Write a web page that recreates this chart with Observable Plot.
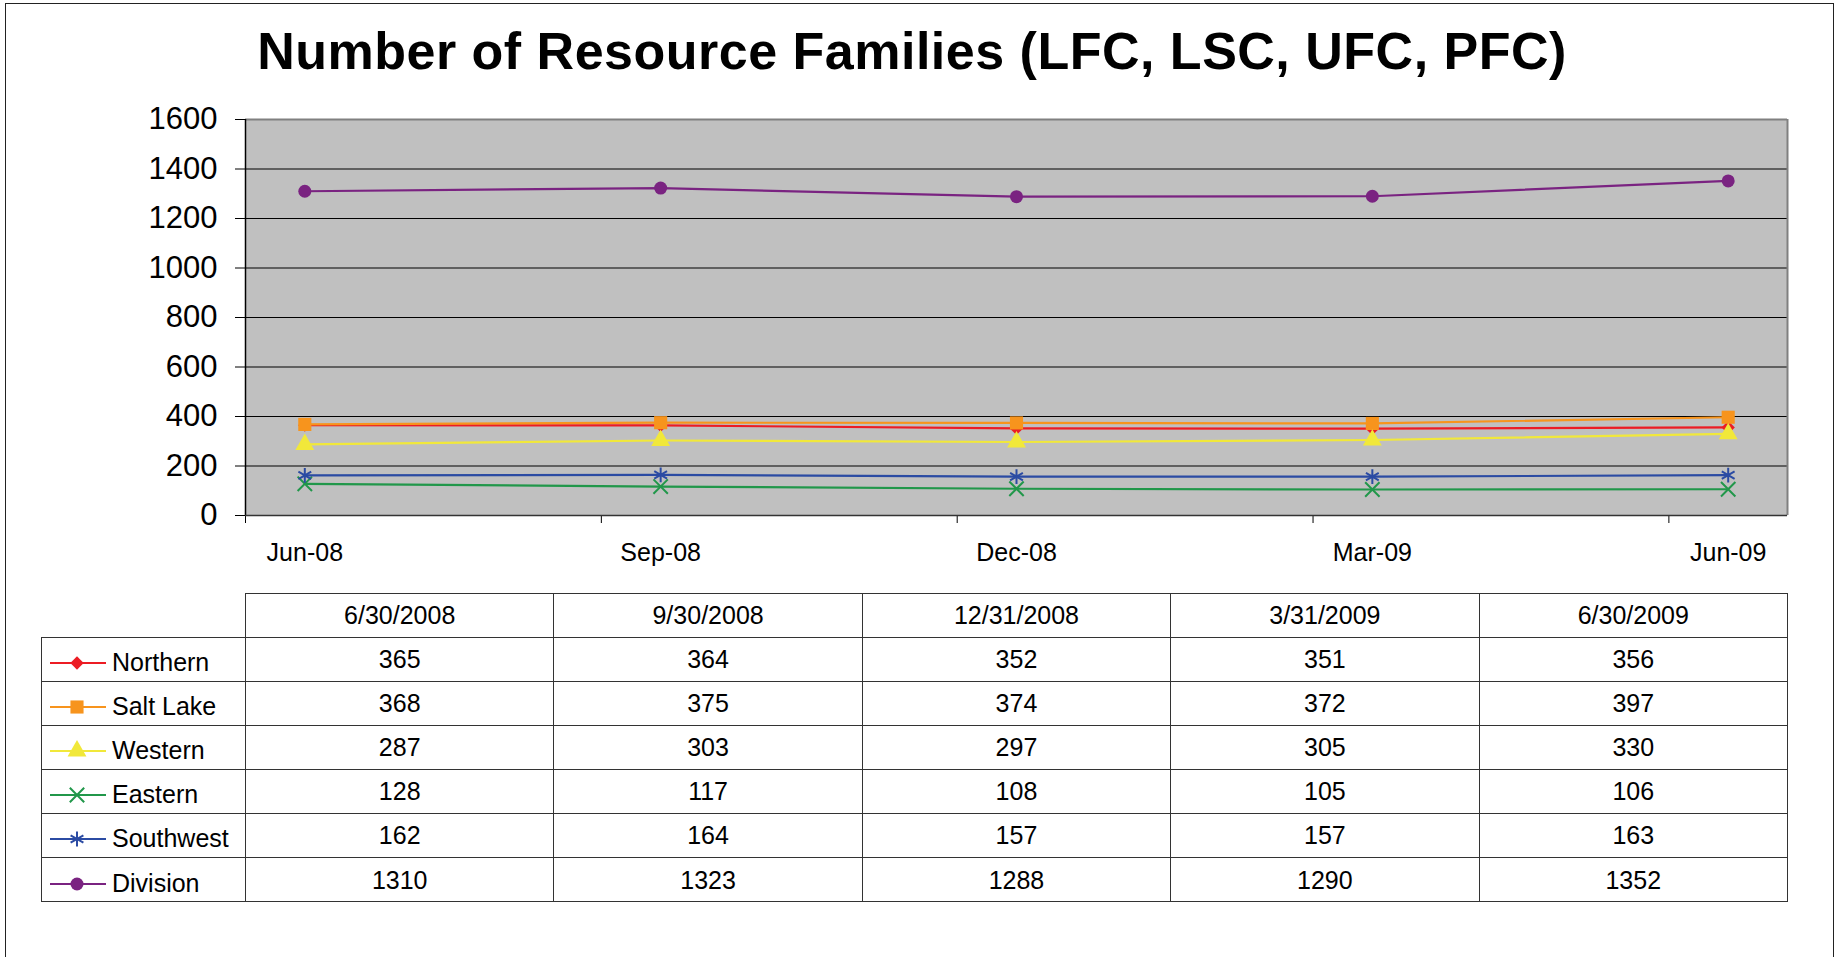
<!DOCTYPE html>
<html>
<head>
<meta charset="utf-8">
<script src="https://cdn.jsdelivr.net/npm/d3@7"></script>
<script src="https://cdn.jsdelivr.net/npm/@observablehq/plot@0.6"></script>
<style>
  html, body { margin: 0; padding: 0; background: #fff; }
  body { width: 1841px; height: 957px; overflow: hidden; position: relative; font-family: "Liberation Sans", Arial, sans-serif; color: #000; }
  #frame { position: absolute; left: 5px; top: 3px; width: 1829px; height: 1000px; border: 1.5px solid #222; border-bottom: none; box-sizing: border-box; }
  #title { position: absolute; left: 0; width: 1824px; top: 25px; text-align: center; font-size: 52px; line-height: 52px; letter-spacing: 0.5px; font-weight: bold; }
  #chart { position: absolute; left: 0; top: 0; }
  #tbl { position: absolute; left: 41px; top: 593px; border-collapse: collapse; table-layout: fixed; font-size: 25px; }
  #tbl td { border: 1.5px solid #333; text-align: center; padding: 0; white-space: nowrap; }
  #tbl tr.head td { height: 42.5px; }
  #tbl tr.body td { height: 42.1px; padding-top: 1px; }
  #tbl td.blank { border: none; }
  #tbl td.leg { text-align: left; position: relative; }
  #tbl td.leg svg { position: absolute; left: 6px; top: 50%; }
  #tbl td.leg span { position: absolute; left: 70px; top: 50%; margin-top: -11px; line-height: 28px; }
</style>
</head>
<body>
<div id="frame"></div>
<div id="title">Number of Resource Families (LFC, LSC, UFC, PFC)</div>
<div id="chart"></div>
<table id="tbl"></table>
<script>
// ---- data ----
const dates = ["6/30/2008", "9/30/2008", "12/31/2008", "3/31/2009", "6/30/2009"];
const axisLabels = ["Jun-08", "Sep-08", "Dec-08", "Mar-09", "Jun-09"];
const seriesNames = ["Northern", "Salt Lake", "Western", "Eastern", "Southwest", "Division"];
const northern = [365, 364, 352, 351, 356];
const saltLake = [368, 375, 374, 372, 397];
const western = [287, 303, 297, 305, 330];
const eastern = [128, 117, 108, 105, 106];
const southwest = [162, 164, 157, 157, 163];
const division = [1310, 1323, 1288, 1290, 1352];
const yTicks = [0, 200, 400, 600, 800, 1000, 1200, 1400, 1600];

// ---- styles ----
const colors = ["#ec1c24", "#f7941d", "#f1e83a", "#21974a", "#2b4ba3", "#7a2381"];
const symbols = ["diamond2", "square", "triangle", "times", "asterisk", "circle"];
const symbolR = [6, 7.4, 7, 6.6, 7, 6.5];
const strokeSymbols = new Set(["times", "asterisk"]);
const d3Sym = {diamond2: d3.symbolDiamond2, square: d3.symbolSquare, triangle: d3.symbolTriangle, times: d3.symbolTimes, asterisk: d3.symbolAsterisk, circle: d3.symbolCircle};

const allValues = [northern, saltLake, western, eastern, southwest, division];
const parse = d3.utcParse("%m/%d/%Y");
const start = new Date(Date.UTC(2008, 5, 1));
const monthPos = dates.map(d => d3.utcMonth.count(start, parse(d)) + 0.5);
const nMonths = d3.utcMonth.count(start, parse(dates[dates.length - 1])) + 1;
const tickPos = d3.range(0, nMonths, 3);

const rows = [];
seriesNames.forEach((s, i) => allValues[i].forEach((v, j) => rows.push({series: s, si: i, x: monthPos[j], value: v})));

const marks = [
  Plot.frame({fill: "#c0c0c0", stroke: "none"}),
  Plot.ruleY(yTicks.slice(1, -1), {stroke: "#000", strokeWidth: 1}),
  Plot.ruleY([yTicks[yTicks.length - 1]], {stroke: "#808080", strokeWidth: 2}),
  Plot.ruleX([nMonths], {stroke: "#808080", strokeWidth: 2}),
  Plot.axisY({ticks: yTicks, tickSize: 10, tickPadding: 18, fontSize: 31, label: null, tickFormat: d => String(d)}),
  Plot.axisX({ticks: tickPos, tickSize: 8, tickFormat: () => "", label: null}),
  Plot.axisX({ticks: monthPos, tickSize: 0, tickPadding: 28, fontSize: 25, label: null, tickFormat: (d, i) => axisLabels[i]}),
  Plot.ruleX([0], {stroke: "#000", strokeWidth: 1.5}),
  Plot.ruleY([0], {stroke: "#333", strokeWidth: 1.5})
];
seriesNames.forEach((s, i) => {
  const data = rows.filter(r => r.si === i);
  marks.push(Plot.line(data, {x: "x", y: "value", stroke: colors[i], strokeWidth: 2.2}));
  if (strokeSymbols.has(symbols[i])) {
    marks.push(Plot.dot(data, {x: "x", y: "value", symbol: () => symbols[i], r: symbolR[i], stroke: colors[i], strokeWidth: 2, fill: "none"}));
  } else {
    marks.push(Plot.dot(data, {x: "x", y: "value", symbol: () => symbols[i], r: symbolR[i], fill: colors[i], stroke: "none"}));
  }
});

const chart = Plot.plot({
  width: 1841,
  height: 580,
  marginLeft: 245,
  marginRight: 54,
  marginTop: 119,
  marginBottom: 65,
  x: {type: "linear", domain: [0, nMonths]},
  y: {domain: [0, yTicks[yTicks.length - 1]]},
  symbol: {type: "identity"},
  style: {fontFamily: "'Liberation Sans', Arial, sans-serif", background: "transparent", color: "#000", overflow: "visible"},
  marks
});
document.getElementById("chart").appendChild(chart);

// ---- data table with legend ----
const tbl = document.getElementById("tbl");
const colgroup = document.createElement("colgroup");
const c0 = document.createElement("col"); c0.style.width = "204px"; colgroup.appendChild(c0);
dates.forEach(() => { const c = document.createElement("col"); c.style.width = "308.4px"; colgroup.appendChild(c); });
tbl.appendChild(colgroup);
const head = document.createElement("tr"); head.className = "head";
const blank = document.createElement("td"); blank.className = "blank"; head.appendChild(blank);
dates.forEach(d => { const td = document.createElement("td"); td.textContent = d; head.appendChild(td); });
tbl.appendChild(head);
seriesNames.forEach((s, i) => {
  const tr = document.createElement("tr"); tr.className = "body";
  const td = document.createElement("td"); td.className = "leg";
  const ns = "http://www.w3.org/2000/svg";
  const svg = document.createElementNS(ns, "svg");
  svg.setAttribute("width", 60); svg.setAttribute("height", 28);
  svg.style.marginTop = "-12px";
  const line = document.createElementNS(ns, "line");
  line.setAttribute("x1", 2); line.setAttribute("x2", 58); line.setAttribute("y1", 16); line.setAttribute("y2", 16);
  line.setAttribute("stroke", colors[i]); line.setAttribute("stroke-width", 2);
  svg.appendChild(line);
  const p = document.createElementNS(ns, "path");
  p.setAttribute("d", d3.symbol().type(d3Sym[symbols[i]]).size(Math.PI * symbolR[i] * symbolR[i])());
  p.setAttribute("transform", "translate(29,16)");
  if (strokeSymbols.has(symbols[i])) { p.setAttribute("fill", "none"); p.setAttribute("stroke", colors[i]); p.setAttribute("stroke-width", 2); }
  else { p.setAttribute("fill", colors[i]); }
  svg.appendChild(p);
  td.appendChild(svg);
  const span = document.createElement("span"); span.textContent = s; td.appendChild(span);
  tr.appendChild(td);
  allValues[i].forEach(v => { const c = document.createElement("td"); c.textContent = v; tr.appendChild(c); });
  tbl.appendChild(tr);
});
</script>
</body>
</html>
